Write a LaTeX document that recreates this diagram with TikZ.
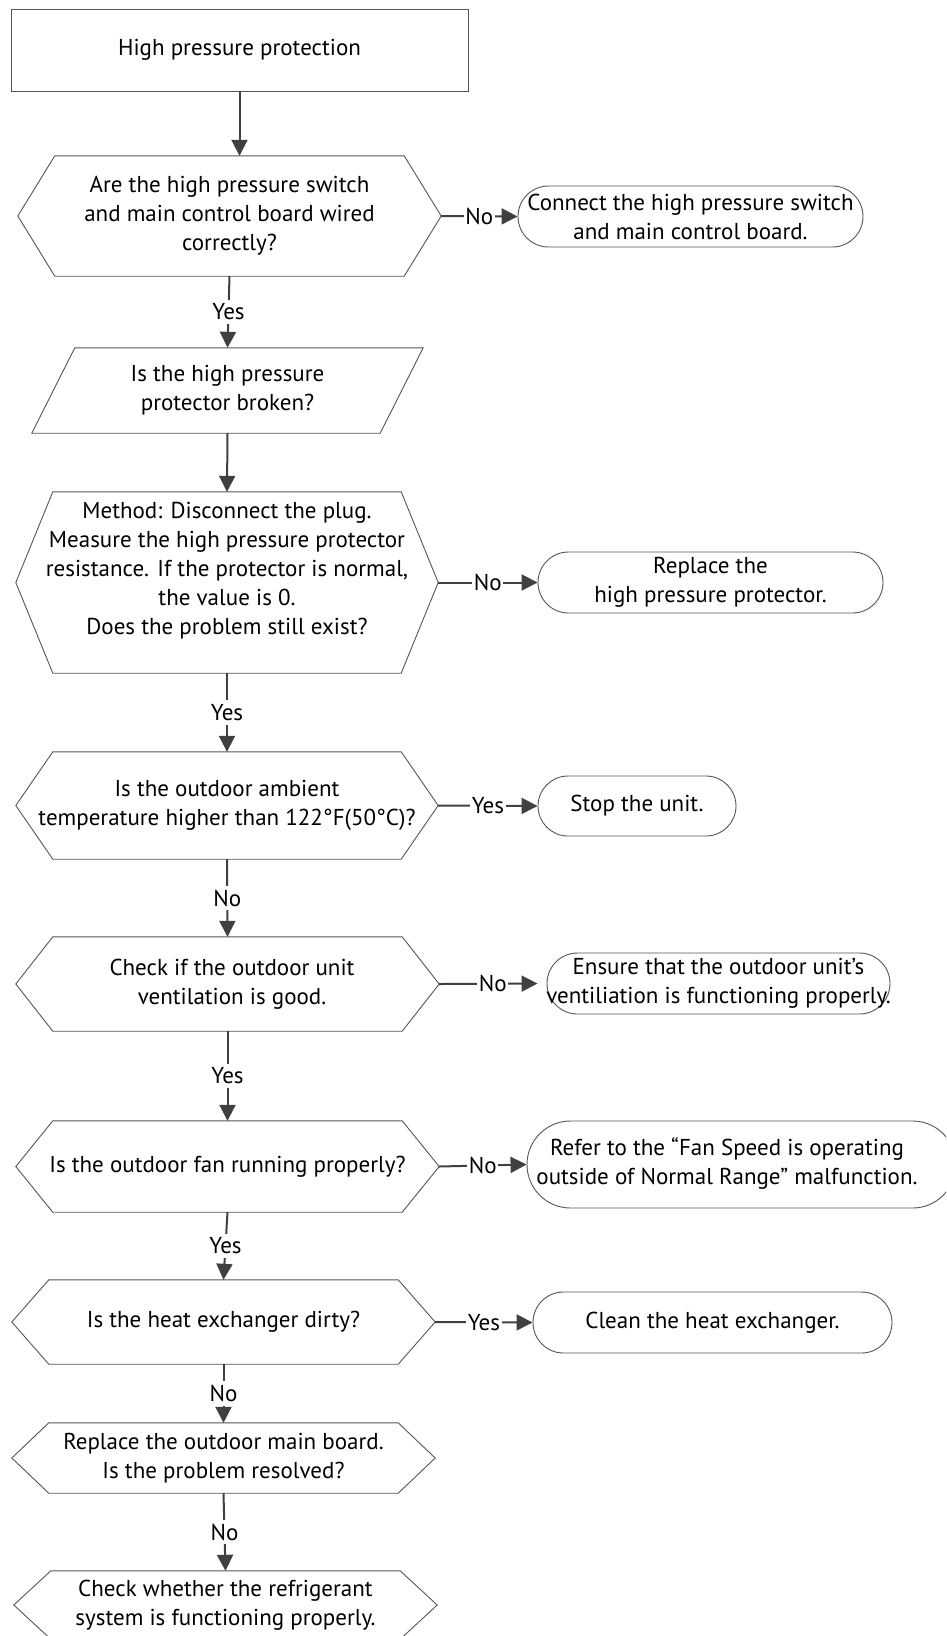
\documentclass[tikz,border=0pt]{standalone}
\usepackage{fontspec}
\setmainfont{PT Sans}
\usetikzlibrary{arrows.meta,calc}
\definecolor{conn}{HTML}{404040}
\definecolor{edgecol}{HTML}{555555}
\begin{document}
\begin{tikzpicture}[x=1pt,y=-1pt,
  every node/.style={font=\fontsize{23}{29}\selectfont, text=black},
  box/.style={draw=edgecol, line width=0.9pt, inner sep=0pt, align=center},
  hexa/.style={inner sep=0pt, align=center, minimum width=423pt},
  para/.style={inner sep=0pt, align=center},
  term/.style={draw=edgecol, line width=0.9pt, rounded corners=#1, inner sep=0pt, align=center},
  shapeline/.style={draw=edgecol, line width=0.9pt, line join=miter},
  flow/.style={draw=conn, line width=2pt, -{Triangle[length=16pt,width=16pt]}},
  lbl/.style={fill=white, inner xsep=1.5pt, inner ysep=4pt},
]
\useasboundingbox (0,0) rectangle (946,1636);
\clip (0,0) rectangle (946,1636);

% main column
\node[box, minimum width=457pt, minimum height=82pt] (start) at (239.5,50) {\raisebox{3pt}{High pressure protection}};
\node[hexa, minimum height=120pt] (h1) at (229.5,216) {Are the high pressure switch\\and main control board wired\\correctly?};
\node[para, minimum width=391pt, minimum height=85pt] (p) at (227.5,390.5) {Is the high pressure\\protector broken?};
\node[hexa, minimum width=422pt, minimum height=181pt] (h2) at (227,582.5) {Method: Disconnect the plug.\\Measure the high pressure protector\\resistance. If the protector is normal,\\the value is 0.\\Does the problem still exist?\\\mbox{}};
\node[hexa, minimum width=422pt, minimum height=107pt] (h3) at (227,805.5) {Is the outdoor ambient\\temperature higher than 122°F(50°C)?};
\node[hexa, minimum height=94pt] (h4) at (227.5,984) {\hspace*{9pt}Check if the outdoor unit\\\hspace*{9pt}ventilation is good.};
\node[hexa, minimum height=91pt] (h5) at (227.5,1166.5) {Is the outdoor fan running properly?};
\node[hexa, minimum height=84pt] (h6) at (223.5,1322) {Is the heat exchanger dirty?};
\node[hexa, minimum height=70pt] (h7) at (223.5,1458) {Replace the outdoor main board.\\Is the problem resolved?};
\node[hexa, minimum height=68pt] (h8) at (225.5,1605) {Check whether the refrigerant\\system is functioning properly.};

% right column
\node[term=30.5pt, minimum width=345pt, minimum height=61pt] (r1) at (690.5,216.5) {Connect the high pressure switch\\and main control board.};
\node[term=30.5pt, minimum width=345pt, minimum height=61pt] (r2) at (710.5,582.5) {Replace the\\high pressure protector.};
\node[term=30pt, minimum width=198pt, minimum height=60pt] (r3) at (637,806) {Stop the unit.};
\node[term=30.5pt, minimum width=343pt, minimum height=61pt] (r4) at (718.5,983.5) {\makebox[330pt]{Ensure that the outdoor unit’s}\\\makebox[330pt]{ventiliation is functioning properly.}};
\node[term=43.5pt, minimum width=429pt, minimum height=87pt] (r5) at (741.5,1164.5) {\begin{tabular}{@{}c@{\hspace{29pt}}}Refer to the “Fan Speed is operating\\outside of Normal Range” malfunction.\end{tabular}};
\node[term=30.5pt, minimum width=359pt, minimum height=61pt] (r6) at (712.5,1322.5) {Clean the heat exchanger.};

% hexagon and parallelogram outlines
\foreach \n in {h1,h2,h3,h4,h5,h6,h7,h8}{
  \draw[shapeline] (\n.west) -- ([xshift=37pt]\n.north west) -- ([xshift=-37pt]\n.north east)
    -- (\n.east) -- ([xshift=-37pt]\n.south east) -- ([xshift=37pt]\n.south west) -- cycle;
}
\draw[shapeline] (p.south west) -- ([xshift=43pt]p.north west) -- (p.north east)
  -- ([xshift=-43pt]p.south east) -- cycle;

% connectors
\draw[flow] (start.south) -- (start.south |- h1.north);
\draw[flow] (h1.south) -- node[lbl]{Yes} (p.north);
\draw[flow] (p.south) -- (h2.north);
\draw[flow] (h2.south) -- node[lbl]{Yes} (h3.north);
\draw[flow] (h3.south) -- node[lbl]{No} (h4.north);
\draw[flow] (h4.south) -- node[lbl]{Yes} (h5.north);
\draw[flow] (h5.south) -- node[lbl]{Yes} (h6.north);
\draw[flow] (h6.south) -- node[lbl]{No} (h7.north);
\draw[flow] (h7.south) -- node[lbl]{No} (h8.north);

\draw[flow] (h1.east) -- node[lbl]{No} (r1.west);
\draw[flow] (h2.east) -- node[lbl]{No} (r2.west);
\draw[flow] (h3.east) -- node[lbl]{Yes} (r3.west);
\draw[flow, shorten >=9pt] (h4.east) -- node[lbl]{No} (r4.west);
\draw[flow] (h5.east) -- node[lbl]{No} (r5.west);
\draw[flow] (h6.east) -- node[lbl]{Yes} (r6.west);
\end{tikzpicture}
\end{document}
